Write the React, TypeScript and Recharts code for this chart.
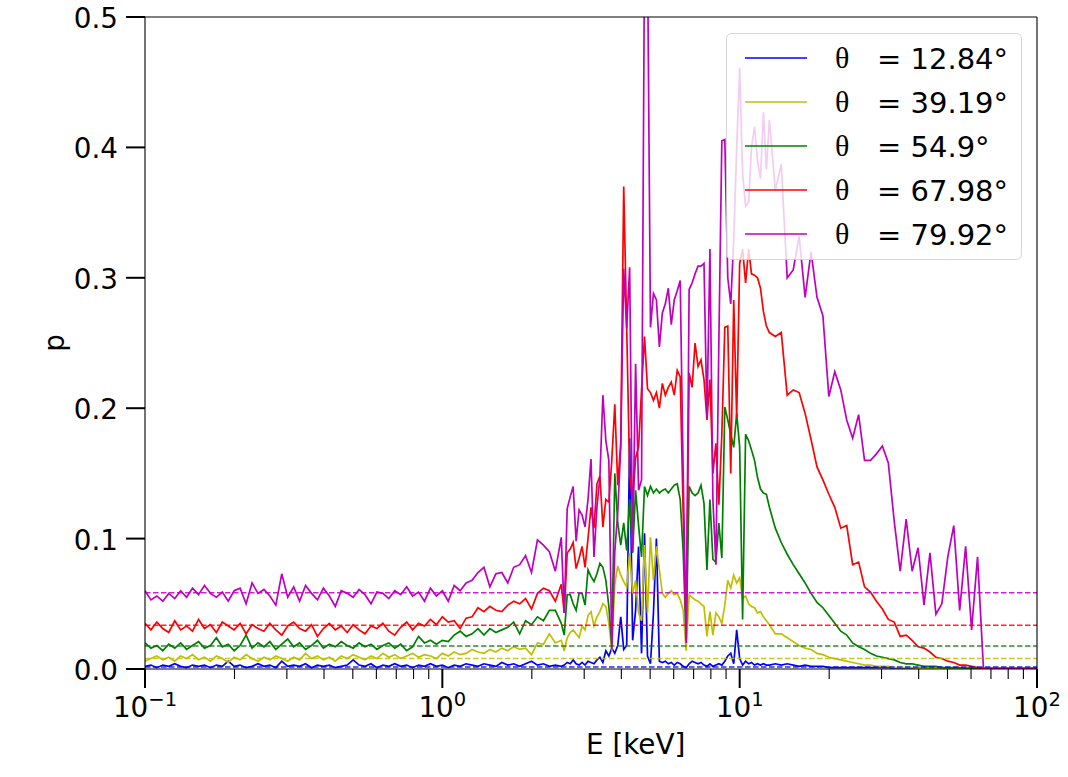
import React from 'react';
import { LineChart, Line, XAxis, YAxis, ReferenceLine } from 'recharts';

// ---------- energies [keV] ----------
const energyLow = [
  0.1, 0.1047, 0.1096, 0.1148, 0.1202, 0.1259, 0.1318, 0.138, 0.1445, 0.1514,
  0.1585, 0.166, 0.1738, 0.182, 0.1905, 0.1995, 0.2089, 0.2188, 0.2291, 0.2399,
  0.2512, 0.263, 0.2754, 0.2884, 0.302, 0.3162, 0.3311, 0.3467, 0.3631, 0.3802,
  0.3981, 0.4169, 0.4365, 0.4571, 0.4786, 0.5012, 0.5248, 0.5495, 0.5754, 0.6026,
  0.631, 0.6607, 0.6918, 0.7244, 0.7586, 0.7943, 0.8318, 0.871, 0.912, 0.955,
  1.0, 1.047, 1.096, 1.148, 1.202, 1.259, 1.318, 1.38, 1.445, 1.514,
  1.585, 1.66, 1.738, 1.82, 1.905, 1.995, 2.089, 2.188, 2.291, 2.399,
];
const energyMid = [
  2.512, 2.57, 2.63, 2.692, 2.754, 2.818, 2.884, 2.951, 3.02, 3.09,
  3.162, 3.236, 3.311, 3.388, 3.467, 3.548, 3.631, 3.715, 3.802, 3.89,
  3.981, 4.074, 4.169, 4.266, 4.365, 4.467, 4.571, 4.677, 4.786, 4.898,
  5.012, 5.129, 5.248, 5.37, 5.495, 5.623, 5.754, 5.888, 6.026, 6.166,
  6.31, 6.457, 6.607, 6.761, 6.918, 7.079, 7.244, 7.413, 7.586, 7.762,
  7.943, 8.128, 8.318, 8.511, 8.71, 8.913, 9.12, 9.333, 9.55, 9.772,
  10.0, 10.23, 10.47, 10.72, 10.96, 11.22, 11.48, 11.75, 12.02, 12.3,
  12.59,
];
const energyHigh = [
  13.18, 13.8, 14.45, 15.14, 15.85, 16.6, 17.38, 18.2, 19.05, 19.95,
  20.89, 21.88, 22.91, 23.99, 25.12, 26.3, 27.54, 28.84, 30.2, 31.62,
  33.11, 34.67, 36.31, 38.02, 39.81, 41.69, 43.65, 45.71, 47.86, 50.12,
  52.48, 54.95, 57.54, 60.26, 63.1, 66.07, 69.18, 72.44, 75.86, 79.43,
  83.18, 87.1, 91.2, 95.5, 100.0,
];

// ---------- theta = 12.84 deg (blue) ----------
const p13Low = [
  0.002, 0.003, 0.001, 0.003, 0.002, 0.004, 0.002, 0.001, 0.003, 0.002,
  0.003, 0.001, 0.003, 0.002, 0.006, 0.002, 0.003, 0.001, 0.002, 0.004,
  0.002, 0.003, 0.001, 0.006, 0.002, 0.003, 0.002, 0.004, 0.001, 0.003,
  0.002, 0.003, 0.001, 0.002, 0.003, 0.007, 0.003, 0.002, 0.004, 0.001,
  0.003, 0.002, 0.004, 0.002, 0.003, 0.001, 0.003, 0.002, 0.004, 0.002,
  0.003, 0.001, 0.003, 0.002, 0.004, 0.003, 0.002, 0.004, 0.003, 0.002,
  0.005, 0.003, 0.004, 0.002, 0.004, 0.006, 0.003, 0.004, 0.002, 0.003,
];
const p13Mid = [
  0.002, 0.003, 0.005, 0.004, 0.007, 0.004, 0.003, 0.005, 0.003, 0.006,
  0.005, 0.004, 0.007, 0.009, 0.005, 0.014, 0.01, 0.016, 0.012, 0.018,
  0.04, 0.015, 0.018, 0.177, 0.022, 0.045, 0.094, 0.012, 0.104, 0.01,
  0.004, 0.043, 0.1, 0.006, 0.005, 0.006, 0.004, 0.005, 0.003, 0.005,
  0.004, 0.002, 0.001, 0.004, 0.006, 0.005, 0.004, 0.005, 0.003, 0.002,
  0.004, 0.002, 0.003, 0.004, 0.003, 0.006, 0.01, 0.012, 0.004, 0.03,
  0.008, 0.003, 0.006, 0.004, 0.005, 0.003, 0.004, 0.003, 0.004, 0.003,
  0.003,
];
const p13High = [
  0.004, 0.003, 0.004, 0.003, 0.002, 0.003, 0.002, 0.002, 0.002, 0.001,
  0.001, 0.001, 0.001, 0.001, 0.001, 0.001, 0.001, 0.001, 0.001, 0.001,
  0.0005, 0.0005, 0.0005, 0.0005, 0.0005, 0.0005, 0.0005, 0.0005, 0.0005, 0.0005,
  0.0005, 0.0005, 0.0005, 0.0005, 0.0005, 0.0005, 0.0005, 0.0005, 0.0005, 0.0005,
  0.0005, 0.0005, 0.0005, 0.0005, 0.0005,
];

// ---------- theta = 39.19 deg (yellow) ----------
const p39Low = [
  0.006, 0.008, 0.01, 0.007, 0.009, 0.006, 0.01, 0.008, 0.011, 0.007,
  0.009, 0.006, 0.01, 0.008, 0.005, 0.009, 0.007, 0.011, 0.008, 0.006,
  0.009, 0.007, 0.01, 0.008, 0.006, 0.009, 0.007, 0.012, 0.008, 0.01,
  0.007, 0.009, 0.006, 0.01, 0.008, 0.011, 0.009, 0.007, 0.01, 0.008,
  0.012, 0.009, 0.011, 0.008, 0.01, 0.012, 0.009, 0.011, 0.01, 0.008,
  0.012, 0.01, 0.013, 0.011, 0.012, 0.015, 0.013, 0.012, 0.015, 0.013,
  0.016, 0.014, 0.017, 0.015, 0.016, 0.011, 0.02, 0.019, 0.027, 0.02,
];
const p39Mid = [
  0.022, 0.014, 0.024, 0.028, 0.03, 0.027, 0.024, 0.033, 0.03, 0.041,
  0.044, 0.033, 0.04, 0.044, 0.05, 0.048, 0.035, 0.014, 0.065, 0.079,
  0.072, 0.067, 0.063, 0.089, 0.058, 0.068, 0.043, 0.037, 0.095, 0.043,
  0.101, 0.068, 0.094, 0.076, 0.058, 0.055, 0.058, 0.06, 0.057, 0.058,
  0.053, 0.045, 0.014, 0.057, 0.055, 0.053, 0.052, 0.05, 0.048, 0.025,
  0.044, 0.026, 0.043, 0.04, 0.035, 0.049, 0.068, 0.062, 0.072, 0.066,
  0.07, 0.054, 0.056, 0.05, 0.048, 0.047, 0.043, 0.044, 0.04, 0.037,
  0.034,
];
const p39High = [
  0.027, 0.027, 0.024, 0.021, 0.018, 0.016, 0.015, 0.012, 0.011, 0.009,
  0.008, 0.007, 0.006, 0.005, 0.004, 0.003, 0.003, 0.002, 0.002, 0.002,
  0.001, 0.001, 0.001, 0.001, 0.0005, 0.0005, 0.0005, 0.0005, 0.0005, 0.0005,
  0.0005, 0.0005, 0.0005, 0.0005, 0.0005, 0.0005, 0.0005, 0.0005, 0.0005, 0.0005,
  0.0005, 0.0005, 0.0005, 0.0005, 0.0005,
];

// ---------- theta = 54.9 deg (green) ----------
const p55Low = [
  0.02, 0.016, 0.018, 0.014, 0.019, 0.016, 0.02, 0.015, 0.018, 0.021,
  0.016, 0.018, 0.024, 0.017, 0.019, 0.014, 0.018, 0.026, 0.016, 0.02,
  0.017, 0.021, 0.015, 0.019, 0.023, 0.017, 0.02, 0.015, 0.018, 0.022,
  0.016, 0.019, 0.017, 0.021, 0.018, 0.016, 0.02, 0.017, 0.019, 0.015,
  0.018, 0.02, 0.016, 0.019, 0.014, 0.017, 0.025, 0.02, 0.022, 0.019,
  0.022, 0.021, 0.026, 0.029, 0.025, 0.027, 0.031, 0.026, 0.031, 0.028,
  0.03, 0.032, 0.036, 0.027, 0.037, 0.034, 0.04, 0.037, 0.045, 0.045,
];
const p55Mid = [
  0.035, 0.026, 0.057, 0.057, 0.05, 0.045, 0.058, 0.058, 0.049, 0.076,
  0.071, 0.067, 0.073, 0.081, 0.078, 0.068, 0.048, 0.018, 0.15, 0.112,
  0.095, 0.112, 0.091, 0.13, 0.089, 0.137, 0.11, 0.086, 0.14, 0.133,
  0.14, 0.135, 0.138, 0.135, 0.137, 0.138, 0.135, 0.138, 0.141, 0.142,
  0.13, 0.09, 0.022, 0.14, 0.135, 0.133, 0.135, 0.141, 0.127, 0.076,
  0.13, 0.084, 0.082, 0.112, 0.085, 0.201, 0.191, 0.18, 0.17, 0.196,
  0.17, 0.038, 0.18, 0.175, 0.168, 0.16, 0.147, 0.138, 0.135, 0.134,
  0.124,
];
const p55High = [
  0.108, 0.097, 0.088, 0.08, 0.073, 0.066, 0.058, 0.051, 0.047, 0.041,
  0.035, 0.029, 0.026, 0.02, 0.017, 0.015, 0.012, 0.01, 0.009, 0.008,
  0.007, 0.005, 0.004, 0.004, 0.003, 0.002, 0.002, 0.002, 0.001, 0.001,
  0.001, 0.001, 0.0005, 0.0005, 0.0005, 0.0005, 0.0005, 0.0005, 0.0005, 0.0005,
  0.0005, 0.0005, 0.0005, 0.0005, 0.0005,
];

// ---------- theta = 67.98 deg (red) ----------
const p68Low = [
  0.035, 0.03, 0.036, 0.031, 0.028, 0.037, 0.03, 0.033, 0.029, 0.038,
  0.031, 0.034, 0.028, 0.036, 0.033, 0.03, 0.035, 0.027, 0.034, 0.031,
  0.029, 0.035, 0.03, 0.026, 0.033, 0.036, 0.031, 0.029, 0.034, 0.025,
  0.031, 0.035, 0.03, 0.033, 0.028, 0.034, 0.03, 0.027, 0.033, 0.031,
  0.035, 0.029, 0.026, 0.032, 0.036, 0.03, 0.035, 0.033, 0.038, 0.034,
  0.04, 0.036, 0.037, 0.031, 0.039, 0.04, 0.047, 0.044, 0.048, 0.045,
  0.044, 0.049, 0.052, 0.05, 0.054, 0.046, 0.058, 0.062, 0.06, 0.052,
];
const p68Mid = [
  0.065, 0.043, 0.089, 0.092, 0.097, 0.077, 0.085, 0.094, 0.078, 0.1,
  0.124, 0.108, 0.142, 0.148, 0.109, 0.13, 0.128, 0.16, 0.203, 0.141,
  0.173, 0.37, 0.262, 0.15, 0.127, 0.162, 0.17, 0.214, 0.255, 0.215,
  0.212, 0.206, 0.212, 0.2, 0.219, 0.21, 0.216, 0.22, 0.21, 0.229,
  0.224, 0.12, 0.032, 0.227, 0.216, 0.25, 0.232, 0.237, 0.222, 0.191,
  0.222, 0.15, 0.173, 0.126, 0.18, 0.262, 0.263, 0.15, 0.283, 0.193,
  0.311, 0.322, 0.296, 0.322, 0.303, 0.302, 0.3, 0.292, 0.274, 0.263,
  0.258,
];
const p68High = [
  0.255, 0.258, 0.21, 0.214, 0.212, 0.196, 0.176, 0.155, 0.145, 0.134,
  0.124, 0.108, 0.11, 0.08, 0.082, 0.063, 0.059, 0.052, 0.046, 0.038,
  0.036, 0.025, 0.026, 0.022, 0.017, 0.016, 0.013, 0.009, 0.008, 0.006,
  0.005, 0.003, 0.003, 0.002, 0.001, 0, 0, 0, 0, 0,
  0, 0, 0, 0, 0,
];

// ---------- theta = 79.92 deg (magenta) ----------
const p80Low = [
  0.06, 0.053, 0.056, 0.052, 0.058, 0.054, 0.06, 0.055, 0.062, 0.057,
  0.064, 0.058, 0.055, 0.059, 0.052, 0.06, 0.062, 0.05, 0.066, 0.058,
  0.061, 0.056, 0.049, 0.073, 0.055, 0.063, 0.052, 0.064, 0.058, 0.053,
  0.062, 0.056, 0.048, 0.06, 0.058, 0.055, 0.061, 0.057, 0.05, 0.059,
  0.058, 0.054, 0.06, 0.057, 0.063, 0.056, 0.059, 0.052, 0.062, 0.056,
  0.06, 0.052, 0.064, 0.06, 0.066, 0.068, 0.074, 0.078, 0.063, 0.073,
  0.074, 0.066, 0.078, 0.08, 0.087, 0.074, 0.099, 0.095, 0.09, 0.075,
];
const p80Mid = [
  0.101, 0.043, 0.123, 0.132, 0.14, 0.098, 0.122, 0.118, 0.109, 0.13,
  0.161, 0.086, 0.124, 0.147, 0.21, 0.175, 0.16, 0.015, 0.09, 0.12,
  0.17, 0.307, 0.261, 0.308, 0.09, 0.234, 0.137, 0.145, 0.55, 0.55,
  0.262, 0.288, 0.283, 0.247, 0.273, 0.28, 0.292, 0.264, 0.283, 0.29,
  0.298, 0.15, 0.02, 0.291, 0.296, 0.303, 0.309, 0.309, 0.311, 0.193,
  0.322, 0.13, 0.08, 0.25, 0.405, 0.406, 0.3, 0.28, 0.329, 0.4,
  0.461, 0.38, 0.355, 0.358, 0.4, 0.416, 0.39, 0.376, 0.427, 0.383,
  0.421,
];
const p80High = [
  0.367, 0.387, 0.3, 0.306, 0.332, 0.285, 0.32, 0.285, 0.271, 0.209,
  0.228, 0.214, 0.191, 0.177, 0.195, 0.16, 0.16, 0.165, 0.171, 0.158,
  0.113, 0.075, 0.115, 0.075, 0.093, 0.049, 0.089, 0.042, 0.05, 0.086,
  0.11, 0.045, 0.094, 0.03, 0.086, 0, 0, 0, 0, 0,
  0, 0, 0, 0, 0,
];

// mean polarisation levels (dashed lines)
const meanLevels = [0.0015, 0.008, 0.0176, 0.0335, 0.0585];
const legendLabels = ['= 12.84°', '= 39.19°', '= 54.9°', '= 67.98°', '= 79.92°'];
const seriesKeys = ['p13', 'p39', 'p55', 'p68', 'p80'];

const xMajor = [0.1, 1, 10, 100];
const xMinor = [
  0.2, 0.3, 0.4, 0.5, 0.6, 0.7, 0.8, 0.9,
  2, 3, 4, 5, 6, 7, 8, 9,
  20, 30, 40, 50, 60, 70, 80, 90,
];
const yTicks = [0, 0.1, 0.2, 0.3, 0.4, 0.5];

const COLORS = ['#0000ff', '#bfbf00', '#008000', '#ff0000', '#bf00bf'];
const FONT = "'DejaVu Sans', sans-serif";

const energy = [...energyLow, ...energyMid, ...energyHigh];
const seriesValues = [
  [...p13Low, ...p13Mid, ...p13High],
  [...p39Low, ...p39Mid, ...p39High],
  [...p55Low, ...p55Mid, ...p55High],
  [...p68Low, ...p68Mid, ...p68High],
  [...p80Low, ...p80Mid, ...p80High],
];
const rows = energy.map((E, i) => {
  const r: Record<string, number | null> = { E };
  seriesKeys.forEach((k, s) => {
    const v = seriesValues[s][i];
    r[k] = v === undefined ? null : v;
  });
  return r;
});

function XTick(props: any) {
  const { x, y, payload } = props;
  const v = Number(payload?.value);
  const isMajor = xMajor.some((m) => Math.abs(m - v) < 1e-9);
  const exp = Math.round(Math.log10(v));
  const expText = exp < 0 ? `\u2212${-exp}` : `${exp}`;
  return (
    <g>
      <line x1={x} x2={x} y1={y} y2={y + (isMajor ? 19 : 10)} stroke="#000" strokeWidth={isMajor ? 2 : 1.1} />
      {isMajor && (
        <text x={x} y={y + 48} textAnchor="middle" fontFamily={FONT} fontSize={27.8} fill="#000">
          <tspan>10</tspan>
          <tspan fontSize={19.5} dy={-11}>{expText}</tspan>
        </text>
      )}
    </g>
  );
}

function YTick(props: any) {
  const { x, y, payload } = props;
  return (
    <g>
      <line x1={x - 19} x2={x} y1={y} y2={y} stroke="#000" strokeWidth={2} />
      <text x={x - 27} y={y + 11} textAnchor="end" fontFamily={FONT} fontSize={27.8} fill="#000">
        {Number(payload?.value).toFixed(1)}
      </text>
    </g>
  );
}

function XLabel() {
  return (
    <text x={586} y={754} fontFamily={FONT} fontSize={27.8} fill="#000">
      E [keV]
    </text>
  );
}

function YLabel() {
  return (
    <text x={64} y={343} transform="rotate(-90 64 343)" textAnchor="middle" fontFamily={FONT} fontSize={27.8} fill="#000">
      p
    </text>
  );
}

function LegendBox() {
  const rowY = [25, 69, 113, 157, 201];
  return (
    <div style={{ position: 'absolute', left: 726, top: 33, width: 296, height: 227, pointerEvents: 'none' }}>
      <svg width={296} height={227}>
        <rect x={0.5} y={0.5} width={295} height={226} rx={5} ry={5} fill="rgba(255,255,255,0.8)" stroke="rgba(204,204,204,0.8)" strokeWidth={1} />
        {legendLabels.map((lab, i) => (
          <g key={lab}>
            <line x1={19} x2={81} y1={rowY[i]} y2={rowY[i]} stroke={COLORS[i]} strokeWidth={1.7} />
            <text x={109} y={rowY[i] + 10} fontFamily="'Liberation Serif', serif" fontSize={30} fill="#000">θ</text>
            <text x={151} y={rowY[i] + 10.5} fontFamily={FONT} fontSize={29} fill="#000">{lab}</text>
          </g>
        ))}
      </svg>
    </div>
  );
}

export default function App() {
  return (
    <div style={{ position: 'absolute', left: 0, top: 0, width: 1068, height: 777, background: '#fff', overflow: 'hidden' }}>
      <LineChart width={1068} height={777} data={rows} margin={{ top: 17, right: 31, bottom: 0, left: 0 }}>
        <XAxis
          dataKey="E"
          type="number"
          scale="log"
          domain={[0.1, 100]}
          allowDataOverflow
          ticks={[...xMajor, ...xMinor]}
          interval={0}
          tick={XTick}
          tickLine={false}
          tickSize={0}
          tickMargin={0}
          height={108}
          axisLine={{ stroke: '#000', strokeWidth: 1.1 }}
          label={XLabel}
        />
        <YAxis
          type="number"
          domain={[0, 0.5]}
          allowDataOverflow
          ticks={yTicks}
          interval={0}
          tick={YTick}
          tickLine={false}
          tickSize={0}
          tickMargin={0}
          width={145}
          axisLine={{ stroke: '#000', strokeWidth: 1.1 }}
          label={YLabel}
        />
        {seriesKeys.map((k, i) => (
          <Line
            key={k}
            dataKey={k}
            type="linear"
            stroke={COLORS[i]}
            strokeWidth={1.7}
            dot={false}
            activeDot={false}
            isAnimationActive={false}
          />
        ))}
        {meanLevels.map((m, i) => (
          <ReferenceLine key={'mean' + i} y={m} stroke={COLORS[i]} strokeOpacity={0.85} strokeDasharray="5.5 2.5" strokeWidth={1.5} />
        ))}
        <ReferenceLine y={0.5} stroke="#000" strokeWidth={1.1} />
        <ReferenceLine x={100} stroke="#000" strokeWidth={1.1} />
      </LineChart>
      <LegendBox />
    </div>
  );
}
